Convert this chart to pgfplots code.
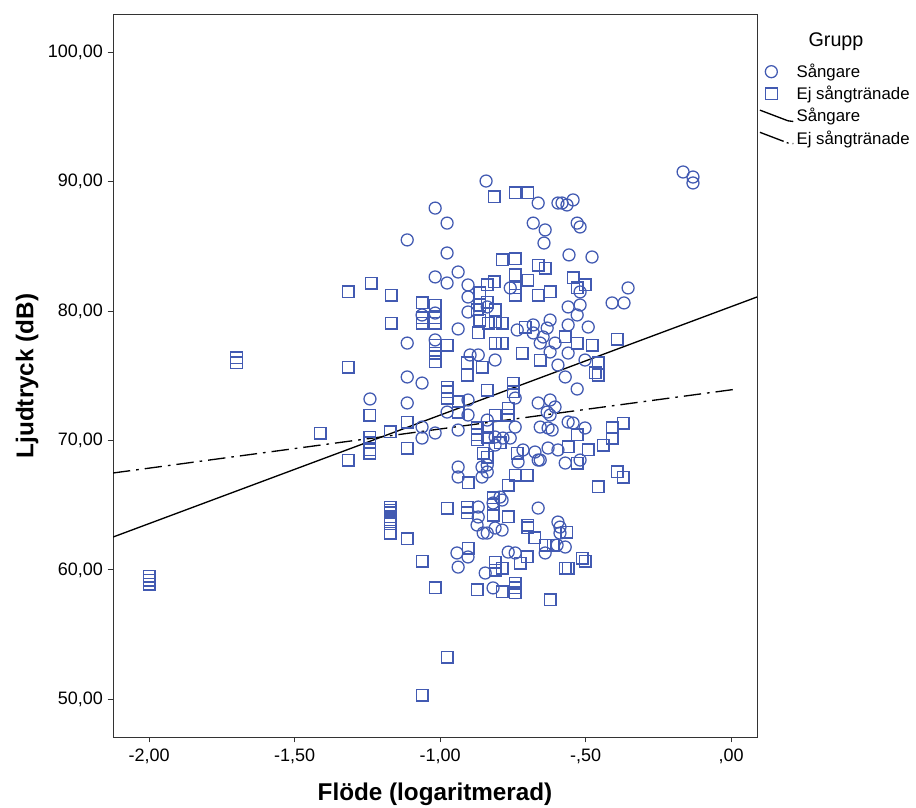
\documentclass[border=0pt]{standalone}
\usepackage{pgfplots}
\pgfplotsset{compat=1.18}
\usepackage{pgfplotstable}
\usepackage{fontspec}
\setmainfont{Liberation Sans}
\definecolor{spssblue}{RGB}{66,90,178}
\pgfplotsset{
  sloped solid legend/.style={legend image code/.code={\draw[##1] (0pt,4.5pt) -- (21pt,-3.5pt) -- (25pt,-4pt);}},
  sloped dashdot legend/.style={legend image code/.code={\draw[##1, dash pattern=on 19pt off 2.5pt on 1.5pt off 3pt] (0pt,4.5pt) -- (21pt,-3.5pt) -- (25pt,-4pt);}},
}
\pgfplotstableread{
x y
-0.165 90.75
-0.131 90.36
-0.131 89.90
-0.842 90.05
-1.017 87.96
-0.976 86.80
-1.113 85.50
-0.976 84.49
-1.017 82.64
-0.976 82.17
-0.938 83.02
-0.904 82.02
-0.904 81.09
-0.904 79.93
-0.938 78.62
-1.113 77.53
-1.017 77.77
-1.062 79.70
-1.017 79.85
-0.663 88.35
-0.595 88.35
-0.581 88.35
-0.543 88.59
-0.564 88.20
-0.680 86.80
-0.639 86.27
-0.643 85.26
-0.529 86.80
-0.519 86.50
-0.557 84.34
-0.478 84.18
-0.759 81.79
-0.519 81.48
-0.354 81.79
-0.409 80.63
-0.368 80.63
-0.560 80.32
-0.519 80.47
-0.529 79.70
-0.560 78.93
-0.491 78.77
-0.838 80.32
-0.735 78.54
-0.680 78.93
-0.680 78.31
-0.622 79.31
-0.632 78.69
-0.646 78.00
-0.605 77.53
-0.656 77.53
-0.897 76.61
-0.869 76.61
-1.113 74.91
-1.062 74.44
-0.904 73.13
-0.904 71.97
-0.976 72.20
-1.113 72.90
-1.062 71.04
-1.062 70.19
-1.017 70.58
-0.938 70.81
-0.938 67.95
-0.938 67.18
-0.856 67.95
-0.856 67.18
-0.869 64.86
-0.869 64.09
-0.873 63.47
-0.852 62.85
-0.942 61.31
-0.904 61.00
-0.938 60.22
-0.845 59.76
-1.241 73.21
-0.622 76.84
-0.811 76.22
-0.595 75.83
-0.742 73.28
-0.663 72.90
-0.622 73.13
-0.605 72.59
-0.632 72.20
-0.622 71.97
-0.656 71.04
-0.629 70.97
-0.615 70.81
-0.742 71.04
-0.838 71.58
-0.811 70.27
-0.784 70.19
-0.759 70.19
-0.811 69.65
-0.715 69.27
-0.674 69.11
-0.656 68.49
-0.663 68.49
-0.629 69.42
-0.595 69.27
-0.732 68.34
-0.838 68.11
-0.838 67.57
-0.663 64.78
-0.794 65.63
-0.595 63.70
-0.818 65.17
-0.787 65.40
-0.838 62.85
-0.811 63.24
-0.787 63.08
-0.639 61.31
-0.598 61.92
-0.588 63.31
-0.588 62.85
-0.766 61.38
-0.742 61.31
-0.818 58.61
-0.560 76.76
-0.502 76.22
-0.570 74.91
-0.529 73.98
-0.560 71.43
-0.543 71.35
-0.502 70.97
-0.570 68.26
-0.519 68.49
-0.570 61.77
}\sangare
\pgfplotstableread{
x y
-2.00 59.53
-2.00 59.22
-2.00 58.91
-1.70 76.38
-1.70 75.99
-1.316 81.48
-1.237 82.17
-1.168 81.24
-1.168 79.08
-1.316 75.68
-1.241 71.97
-1.412 70.58
-1.241 70.27
-1.241 69.81
-1.241 69.27
-1.241 69.03
-1.172 70.66
-1.316 68.49
-1.172 64.86
-1.172 64.63
-1.172 64.40
-1.172 64.09
-1.172 63.86
-1.172 63.55
-1.172 62.85
-1.062 80.63
-1.017 80.47
-1.062 79.47
-1.017 79.47
-1.062 79.08
-1.017 79.08
-0.869 78.31
-1.017 77.38
-0.976 77.38
-0.863 81.40
-0.863 80.47
-0.873 80.09
-0.863 79.31
-0.814 88.82
-0.742 89.13
-0.698 89.13
-0.787 83.95
-0.742 84.03
-0.663 83.56
-0.639 83.33
-0.814 82.25
-0.742 82.79
-0.698 82.40
-0.742 81.79
-0.742 81.24
-0.663 81.24
-0.622 81.48
-0.838 82.02
-0.838 80.70
-0.811 80.09
-0.811 79.16
-0.787 79.08
-0.835 79.08
-0.708 78.77
-0.811 77.53
-0.787 77.53
-0.543 82.56
-0.502 82.02
-0.529 81.79
-0.570 78.00
-0.529 77.53
-0.478 77.38
-0.392 77.84
-1.017 76.76
-1.017 76.07
-0.907 75.99
-0.907 75.06
-0.856 75.68
-0.976 74.13
-0.976 73.75
-0.976 73.28
-0.938 72.98
-0.938 72.20
-1.113 71.43
-0.873 70.97
-0.873 70.43
-0.873 70.04
-1.113 69.42
-0.852 69.03
-0.904 66.72
-0.976 64.78
-0.907 64.86
-0.907 64.40
-1.113 62.39
-1.062 60.69
-0.904 61.69
-1.017 58.61
-0.873 58.45
-0.976 53.27
-1.062 50.33
-0.718 76.76
-0.656 76.22
-0.838 73.90
-0.749 74.44
-0.749 73.75
-0.766 72.51
-0.766 71.97
-0.811 71.97
-0.838 71.04
-0.838 70.27
-0.794 69.81
-0.735 69.03
-0.838 68.72
-0.742 67.33
-0.701 67.33
-0.766 66.56
-0.818 65.56
-0.818 65.02
-0.766 64.09
-0.698 63.47
-0.818 64.24
-0.698 63.24
-0.674 62.47
-0.639 61.92
-0.612 61.92
-0.701 61.00
-0.725 60.53
-0.811 60.61
-0.811 59.99
-0.787 60.14
-0.787 58.30
-0.742 58.99
-0.742 58.61
-0.742 58.22
-0.622 57.68
-0.570 60.14
-0.457 75.99
-0.467 75.22
-0.457 75.06
-0.529 70.43
-0.409 70.97
-0.371 71.35
-0.409 70.19
-0.560 69.50
-0.491 69.27
-0.440 69.65
-0.529 68.26
-0.392 67.57
-0.371 67.18
-0.457 66.41
-0.564 62.93
-0.560 60.14
-0.512 60.92
-0.502 60.69
}\ejsang
\begin{document}
\begin{tikzpicture}
\useasboundingbox (0,0) rectangle (687pt,605.25pt);
\begin{axis}[
  at={(84.75pt,52.5pt)}, anchor=south west,
  scale only axis, width=483pt, height=541.5pt,
  xmin=-2.124, xmax=0.089, ymin=47.09, ymax=102.88,
  axis line style={black!80, line width=0.75pt},
  tick align=outside, xtick pos=bottom, ytick pos=left,
  major tick length=4pt,
  tick style={black!80, line width=0.75pt},
  xtick={-2,-1.5,-1,-0.5,0},
  xticklabels={{-2,00},{-1,50},{-1,00},{-,50},{,00}},
  ytick={50,60,70,80,90,100},
  yticklabels={{50,00},{60,00},{70,00},{80,00},{90,00},{100,00}},
  tick label style={font=\fontsize{13.5}{15}\selectfont},
  xticklabel style={yshift=-1.5pt},
  xlabel={Flöde (logaritmerad)},
  ylabel={Ljudtryck (dB)},
  every axis x label/.style={at={(axis description cs:0.5,0)}, anchor=center, yshift=-43pt, font=\bfseries\fontsize{18.2}{21}\selectfont},
  every axis y label/.style={at={(axis description cs:-0.1335,0.5)}, anchor=center, rotate=90, font=\bfseries\fontsize{18.2}{21}\selectfont},
  legend style={at={(axis description cs:1,1)}, anchor=north west, xshift=1pt, yshift=-34pt, draw=none, fill=none,
    font=\fontsize{12.6}{14}\selectfont, row sep=1pt, inner sep=0.5pt},
  legend cell align=left,
]
\addplot[only marks, mark=o, mark size=4.5pt, spssblue, mark options={line width=0.95pt}] table {\sangare};
\addlegendentry{Sångare}
\addplot[only marks, mark=square, mark size=4.4pt, spssblue, mark options={line width=0.95pt}] table {\ejsang};
\addlegendentry{Ej sångtränade}
\addplot[black, line width=1pt, sloped solid legend] coordinates {(-2.124,62.54) (0.089,81.09)};
\addlegendentry{Sångare}
\addplot[black, line width=1pt, dash pattern=on 13pt off 4.5pt on 2pt off 4.5pt, sloped dashdot legend] coordinates {(-2.124,67.49) (0.021,73.98)};
\addlegendentry{Ej sångtränade}
\end{axis}
\node[font=\fontsize{14.8}{17}\selectfont] at (627pt,573.75pt) {Grupp};
\end{tikzpicture}
\end{document}
